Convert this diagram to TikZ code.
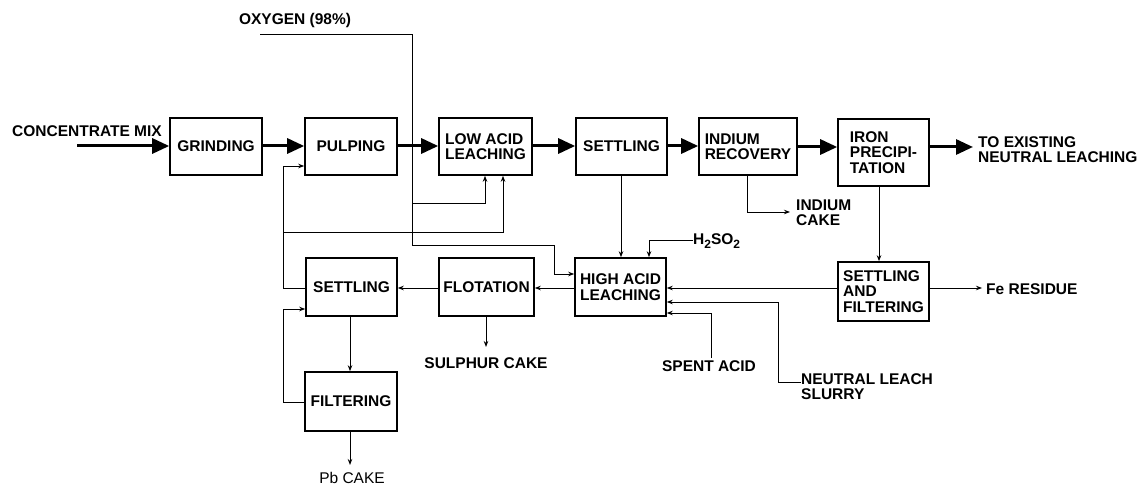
\documentclass[tikz,border=0pt]{standalone}
\usepackage{fontspec}
\setmainfont{Liberation Sans}
\usetikzlibrary{arrows.meta}
\begin{document}
\begin{tikzpicture}[x=1pt,y=-1pt,
  box/.style={draw,line width=1.6pt,inner sep=0pt,align=left,font=\fontsize{15.5}{15.5}\selectfont\bfseries},
  lbl/.style={inner sep=0pt,align=left,font=\fontsize{15.5}{15.5}\selectfont\bfseries},
  main/.style={line width=3pt,-{Triangle[length=17pt,width=15pt]}},
  thin/.style={line width=0.9pt,-{Stealth[length=6pt,width=4.5pt]}},
  plain/.style={line width=0.9pt}]
\useasboundingbox (0,0) rectangle (1142,486);
% boxes
\node[box,minimum width=92pt,minimum height=57pt] (grind) at (216,146.5) {GRINDING};
\node[box,minimum width=92pt,minimum height=57pt] (pulp) at (351,146.5) {PULPING};
\node[box,minimum width=93pt,minimum height=57pt] (low) at (485.5,146.5) {LOW ACID\\LEACHING};
\node[box,minimum width=91pt,minimum height=57pt] (set1) at (621.5,146.5) {SETTLING};
\node[box,minimum width=98pt,minimum height=57pt] (ind) at (748,146.5) {INDIUM\\RECOVERY};
\node[box,minimum width=91pt,minimum height=67pt] (iron) at (883.5,152.5) {IRON\\PRECIPI-\\TATION};
\node[box,minimum width=91pt,minimum height=58pt] (set2) at (351.5,287) {SETTLING};
\node[box,minimum width=95pt,minimum height=58pt] (flot) at (486.5,287) {FLOTATION};
\node[box,minimum width=91pt,minimum height=58pt] (high) at (620.5,287) {HIGH ACID\\LEACHING};
\node[box,minimum width=92pt,minimum height=59pt] (filt) at (351,401.5) {FILTERING};
\node[box,minimum width=91pt,minimum height=59pt] (sf) at (883.5,291.5) {SETTLING\\AND\\FILTERING};
% labels
\node[lbl] (conc) at (87,131) {CONCENTRATE MIX};
\node[lbl] (oxy) at (295,20) {OXYGEN (98\%)};
\node[lbl,anchor=west] (toex) at (978,149.5) {TO EXISTING\\NEUTRAL LEACHING};
\node[lbl,anchor=west] (indc) at (796,212.5) {INDIUM\\CAKE};
\node[lbl,anchor=west] (h2) at (693,241) {H\raisebox{-4pt}{\fontsize{12}{12}\selectfont 2}SO\raisebox{-4pt}{\fontsize{12}{12}\selectfont 2}};
\node[lbl,anchor=west] (fe) at (986,289) {Fe RESIDUE};
\node[lbl,anchor=west] (neu) at (801,386.5) {NEUTRAL LEACH\\SLURRY};
\node[lbl] (spent) at (709,366) {SPENT ACID};
\node[lbl] (sul) at (486,363) {SULPHUR CAKE};
\node[inner sep=0pt,font=\fontsize{15.5}{15.5}\selectfont] (pb) at (352,478) {Pb CAKE};
% coordinates
\coordinate (cin) at (77,146);
\coordinate (o1) at (260,34);
\coordinate (toexin) at (973,147);
% main flow
\draw[main] (cin) -- (grind.west |- cin);
\draw[main] (grind.east |- cin) -- (pulp.west |- cin);
\draw[main] (pulp.east |- cin) -- (low.west |- cin);
\draw[main] (low.east |- cin) -- (set1.west |- cin);
\draw[main] (set1.east |- cin) -- (ind.west |- cin);
\draw[main] (ind.east |- toexin) -- (iron.west |- toexin);
\draw[main] (iron.east |- toexin) -- (toexin);
% oxygen
\draw[plain] (o1) -- (412,34) -- (412,245) -- (554,245) -- (554,274);
\draw[thin] (554,274) -- (high.west |- 0,274);
\draw[thin] (412,203) -- (485,203) -- (low.south -| 485,0);
% recycle from settling 2
\draw[thin] (set2.west |- 0,288) -- (283,288) -- (283,166) -- (pulp.west |- 0,166);
\draw[thin] (283,232) -- (503,232) -- (low.south -| 503,0);
\draw[thin] (filt.west |- 0,402) -- (283,402) -- (283,309) -- (set2.west |- 0,309);
\draw[thin] (set2.south -| 350,0) -- (filt.north -| 350,0);
\draw[thin] (filt.south -| 350,0) -- (350,465);
\draw[thin] (flot.south -| 486,0) -- (486,347);
\draw[thin] (high.west |- 0,288) -- (flot.east |- 0,288);
\draw[thin] (flot.west |- 0,288) -- (set2.east |- 0,288);
\draw[thin] (set1.south -| 621,0) -- (high.north -| 621,0);
\draw[thin] (h2.west |- 0,240) -- (649,240) -- (high.north -| 649,0);
\draw[thin] (ind.south -| 747,0) -- (747,212) -- (790,212);
\draw[thin] (iron.south -| 879,0) -- (sf.north -| 879,0);
\draw[thin] (sf.west |- 0,288) -- (high.east |- 0,288);
\draw[thin] (sf.east |- 0,288) -- (982,288);
\draw[thin] (801,382) -- (778,382) -- (778,302) -- (high.east |- 0,302);
\draw[thin] (711,358) -- (711,313) -- (high.east |- 0,313);
\end{tikzpicture}
\end{document}
